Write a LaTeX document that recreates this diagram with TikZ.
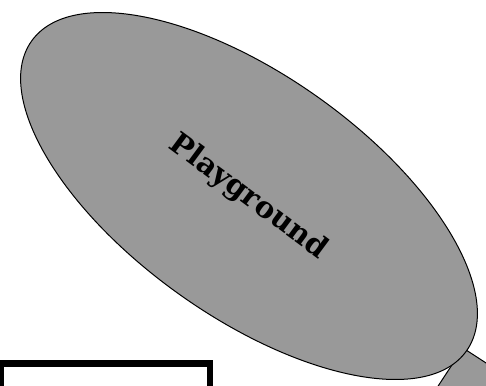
\documentclass[tikz,border=0pt]{standalone}
\usepackage{fontspec}
\setmainfont{DejaVu Serif}
\usetikzlibrary{shapes.geometric}
\definecolor{areagray}{RGB}{153,153,153}
\tikzset{
  area/.style={ellipse, draw=black, fill=areagray, line width=1pt, inner sep=0pt, outer sep=0pt},
  wedge/.style={draw=black, fill=areagray, line width=1pt},
  roombox/.style={draw=black, fill=white, line width=6.5pt, inner sep=0pt, outer sep=0pt}
}
\begin{document}
\begin{tikzpicture}[x=1pt,y=-1pt]
\useasboundingbox (0,0) rectangle (486,385);
\clip (0,0) rectangle (486,385);
% partially hidden shape at lower right
\coordinate (apex) at (463,348);
\coordinate (wr) at (543,400);
\coordinate (wl) at (429,400);
\fill[areagray] (wr) -- (apex) -- (wl) -- cycle;
\draw[wedge] (wr) -- (apex) -- (wl);
% playground
\node (play) [area, minimum width=534pt, minimum height=241pt, rotate=-35.5] at (249,196) {};
\node (playlabel) [rotate=-36.5, font=\bfseries\fontsize{29.5}{34}\selectfont] at (248,197) {Playground};
% box at lower left
\node (box) [roombox, minimum width=209.5pt, minimum height=80pt, anchor=north west] at (0.5,363.5) {};
\end{tikzpicture}
\end{document}
